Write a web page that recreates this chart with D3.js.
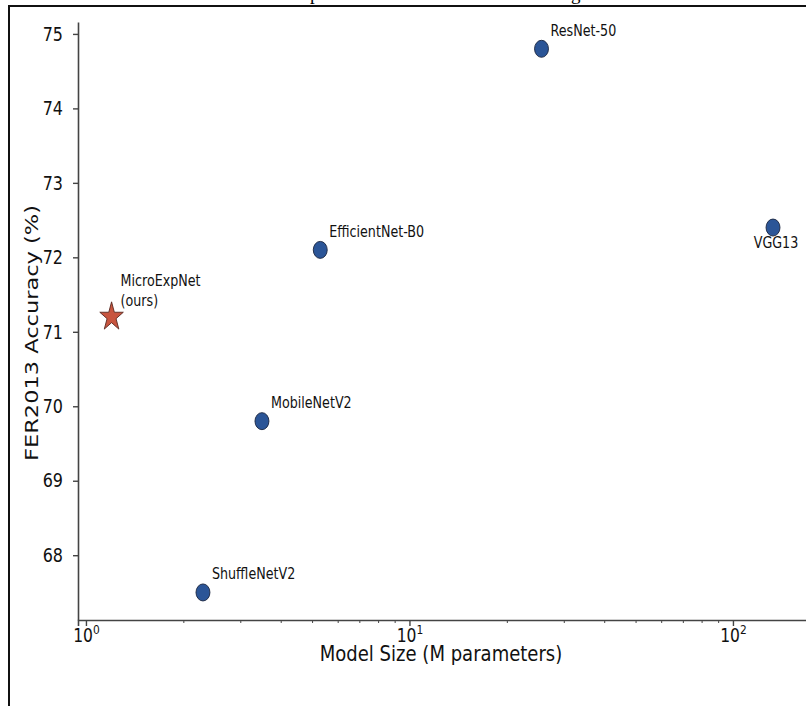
<!DOCTYPE html>
<html>
<head>
<meta charset="utf-8">
<script src="https://cdn.jsdelivr.net/npm/d3@7"></script>
<style>
  body { margin: 0; background: #fff; }
  svg { display: block; }
</style>
</head>
<body>
<div id="chart"></div>
<script>
// Data
var models = ["MicroExpNet\n(ours)", "ShuffleNetV2", "MobileNetV2", "EfficientNet-B0", "ResNet-50", "VGG13"];
var sizes = [1.2, 2.3, 3.5, 5.3, 25.6, 133];
var accuracy = [71.2, 67.5, 69.8, 72.1, 74.8, 72.4];
var ours = [true, false, false, false, false, false];
var yTicks = [68, 69, 70, 71, 72, 73, 74, 75];
var xTicks = [1, 10, 100];

var width = 806;
var height = 706;
var sx = 0.82;   // the whole picture is squeezed horizontally

var data = models.map((m, i) => ({ name: m, size: sizes[i], acc: accuracy[i], ours: ours[i] }));

const svg = d3.select("#chart")
    .append("svg")
    .attr("width", width)
    .attr("height", height);

// page frame and the cut-off caption above it
svg.append("rect")
    .attr("x", 9).attr("y", 6)
    .attr("width", 820).attr("height", 720)
    .attr("fill", "none")
    .attr("stroke", "#111")
    .attr("stroke-width", 2);
svg.append("text")
    .attr("x", 310).attr("y", -0.5)
    .style("font-family", "Liberation Serif")
    .style("font-size", "19px")
    .text("p");
svg.append("text")
    .attr("x", 571).attr("y", -0.5)
    .style("font-family", "Liberation Serif")
    .style("font-size", "19px")
    .text("g");

// scales
var x = d3.scaleLog()
    .domain([0.945, 250])
    .range([78, 78 + 323.5 * Math.log10(250 / 0.945)]);
var y = d3.scaleLinear()
    .domain([67.13, 75.16])
    .range([620, 22]);

var font = "'DejaVu Sans', sans-serif";
var spine = "#444";

// x axis
var xAxis = g => g
    .attr("transform", `translate(0,620)`)
    .call(d3.axisBottom(x).tickValues(xTicks).tickSize(6).tickPadding(4).tickFormat(""))
    .call(g => g.select(".domain").attr("stroke", spine).attr("stroke-width", 1.6))
    .call(g => g.selectAll(".tick line").attr("stroke", spine).attr("stroke-width", 1.4))
    .call(g => g.selectAll(".tick text").each(function (d) {
        var t = d3.select(this)
            .attr("y", 9)
            .attr("fill", "#111")
            .attr("transform", `scale(${sx},1)`)
            .style("font-family", font)
            .style("font-size", "19px");
        t.append("tspan").text("10");
        t.append("tspan").attr("dy", -8).style("font-size", "13px").text(Math.round(Math.log10(d)));
    }));

// minor ticks
var minor = [];
[1, 10, 100].forEach(b => d3.range(2, 10).forEach(k => minor.push(b * k)));
var xMinor = g => g
    .attr("transform", `translate(0,620)`)
    .call(d3.axisBottom(x).tickValues(minor.filter(v => v < 250)).tickSize(3).tickFormat(""))
    .call(g => g.select(".domain").remove())
    .call(g => g.selectAll(".tick line").attr("stroke", spine).attr("stroke-width", 1));

// y axis
var yAxis = g => g
    .attr("transform", `translate(78,0)`)
    .call(d3.axisLeft(y).tickValues(yTicks).tickSize(5).tickSizeOuter(0))
    .call(g => g.select(".domain").attr("stroke", spine).attr("stroke-width", 1.6))
    .call(g => g.selectAll(".tick line").attr("stroke", spine).attr("stroke-width", 1.4))
    .call(g => g.selectAll(".tick text")
        .attr("x", -15 / sx)
        .attr("fill", "#111")
        .attr("transform", `scale(${sx},1)`)
        .style("font-family", font)
        .style("font-size", "19.5px"));

svg.append("g").call(xMinor);
svg.append("g").call(xAxis);
svg.append("g").call(yAxis);

// axis titles
svg.append("text")
    .attr("transform", `translate(441,661) scale(${sx},1)`)
    .attr("text-anchor", "middle")
    .attr("fill", "#111")
    .style("font-family", font)
    .style("font-size", "22px")
    .text("Model Size (M parameters)");
svg.append("text")
    .attr("transform", `translate(38,333) scale(${sx},1) rotate(-90)`)
    .attr("text-anchor", "middle")
    .attr("fill", "#111")
    .style("font-family", font)
    .style("font-size", "22.5px")
    .text("FER2013 Accuracy (%)");

// markers
svg.append("g")
    .selectAll("path")
    .data(data)
    .join("path")
      .attr("d", d => d.ours
          ? d3.symbol(d3.symbolStar, 255)()
          : d3.symbol(d3.symbolCircle, 227)())
      .attr("transform", d => `translate(${x(d.size)},${y(d.acc)}) scale(${sx},1)`)
      .attr("fill", d => d.ours ? "#c8553f" : "#2b5597")
      .attr("stroke", d => d.ours ? "#5b2a22" : "#1a2540")
      .attr("stroke-width", 1);

// labels
var labels = svg.append("g")
    .selectAll("text")
    .data(data)
    .join("text")
      .attr("transform", d => d.name === "VGG13"
          ? `translate(${x(d.size) + 3},${y(d.acc) + 20}) scale(${sx},1)`
          : `translate(${x(d.size) + 9},${y(d.acc) - (d.ours ? 11 : 13)}) scale(${sx},1)`)
      .attr("text-anchor", d => d.name === "VGG13" ? "middle" : "start")
      .attr("fill", "#111")
      .style("font-family", font)
      .style("font-size", "15.5px");

labels.each(function (d) {
    var lines = d.name.split("\n");
    var t = d3.select(this);
    lines.forEach((ln, i) => {
        t.append("tspan")
            .attr("x", 0)
            .attr("dy", i === 0 ? -(lines.length - 1) * 20 : 20)
            .text(ln);
    });
});
</script>
</body>
</html>
